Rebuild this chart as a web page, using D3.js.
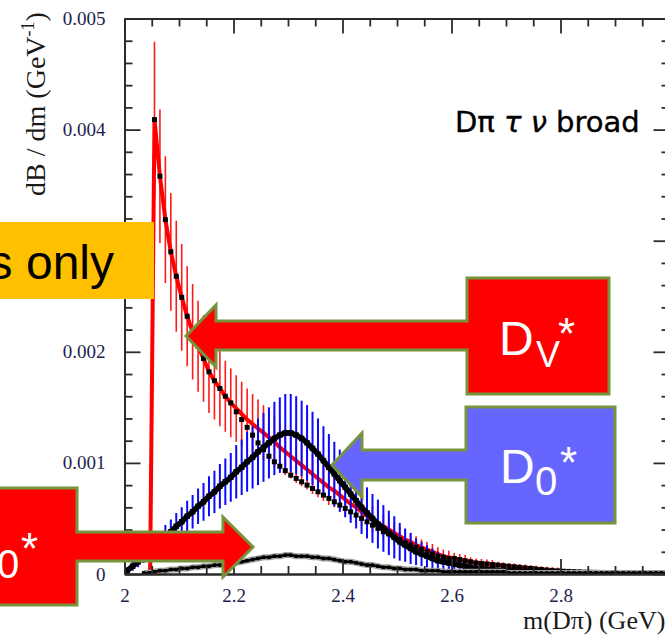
<!DOCTYPE html>
<html>
<head>
<meta charset="utf-8">
<script src="https://cdn.jsdelivr.net/npm/d3@7/dist/d3.min.js"></script>
<style>
    html, body { margin: 0; padding: 0; background: #fff; }
    svg { display: block; }
</style>
</head>
<body>
<div id="chart"></div>
<script>
// bin centres: 2.005, 2.015 ... 2.995 GeV (10 MeV bins)
var binStart = 2.005, binWidth = 0.01
var dvThreshold = 2.047   // red curve rises from zero here

// D_V* broad : red curve + red error bars
var dvCurve = [null, null, null, null, null,
    0.00409, 0.00358, 0.00319, 0.00290, 0.00268, 0.00249, 0.00232, 0.00218, 0.00205, 0.00194,
    0.00182, 0.00174, 0.00167, 0.00160, 0.00154, 0.00149, 0.00144, 0.00139, 0.00135, 0.00131,
    0.00127, 0.00123, 0.00119, 0.00114, 0.00110, 0.00106, 0.00102, 0.00098, 0.00094, 0.00090,
    0.00086, 0.00082, 0.00078, 0.00075, 0.00071, 0.00067, 0.00063, 0.00060, 0.00056, 0.00052,
    0.00049, 0.00046, 0.00043, 0.00040, 0.00037, 0.00034, 0.00031, 0.00029, 0.00026, 0.00024,
    0.00022, 0.00020, 0.00018, 0.00016, 0.00015, 0.00014, 0.00013, 0.00012, 0.00011, 0.00010,
    0.000095, 0.00009, 0.000085, 0.00008, 0.000075, 0.00007, 0.000065, 0.00006, 0.000055, 0.00005,
    0.000045, 0.00004, 0.000036, 0.000032, 0.000028, 0.000025, 0.000023, 0.000021, 0.000019, 0.000017,
    0.000016, 0.000015, 0.000014, 0.000013, 0.000012, 0.000011, 0.00001, 0.00001, 0.000009, 0.000009,
    0.000008, 0.000008, 0.000007, 0.000007, 0.000006]
var dvErr = [null, null, null, null, null,
    0.0007, 0.0006, 0.00057, 0.00053, 0.0005, 0.00048, 0.00045, 0.00043, 0.00041, 0.00039,
    0.00037, 0.00035, 0.00034, 0.00032, 0.00031, 0.0003, 0.00029, 0.00028, 0.00027, 0.00026,
    0.00025, 0.00024, 0.00023, 0.00022, 0.00021, 0.0002, 0.0002, 0.00019, 0.00018, 0.00018,
    0.00017, 0.00016, 0.00016, 0.00015, 0.00015, 0.00014, 0.00014, 0.00013, 0.00013, 0.00012,
    0.00012, 0.00011, 0.00011, 0.0001, 0.0001, 0.00009, 0.00009, 0.00008, 0.00008, 0.00007,
    0.00007, 0.00007, 0.00006, 0.00006, 0.00006, 0.00005, 0.00005, 0.00005, 0.00004, 0.00004,
    0.00004, 0.00004, 0.00004, 0.00003, 0.00003, 0.00003, 0.00003, 0.00003, 0.00003, 0.00003,
    0.00003, 0.00003, 0.00003, 0.00003, 0.00003, 0.00002, 0.00002, 0.00002, 0.00002, 0.00002,
    0.00002, 0.00002, 0.00002, 0.00002, 0.00002, 0.00002, 0.00002, 0.00002, 0.00002, 0.00002,
    0.00002, 0.00002, 0.00002, 0.00002, 0.00002]
// black squares sitting on / below the red curve
var dvPoints = [null, null, null, null, null,
    0.00409, 0.00358, 0.00319, 0.00290, 0.00268, 0.00249, 0.00232, 0.00218, 0.00205, 0.00194,
    0.00182, 0.00174, 0.00167, 0.00160, 0.00154, 0.00146, 0.00139, 0.00132, 0.00125, 0.00118,
    0.00112, 0.00106, 0.00101, 0.00097, 0.00093, 0.00089, 0.00086, 0.00083, 0.00080, 0.00077,
    0.00074, 0.00071, 0.00068, 0.00065, 0.00062, 0.00059, 0.00056, 0.00053, 0.00050, 0.00047,
    0.00044, 0.00041, 0.00038, 0.00036, 0.00033, 0.00031, 0.00028, 0.00026, 0.00024, 0.00022,
    0.00020, 0.00018, 0.00016, 0.00015, 0.00014, 0.00014, 0.00013, 0.00012, 0.00011, 0.00010,
    0.000095, 0.00009, 0.000085, 0.00008, 0.000075, 0.00007, 0.000065, 0.00006, 0.000055, 0.00005,
    0.000045, 0.00004, 0.000036, 0.000032, 0.000028, 0.000025, 0.000023, 0.000021, 0.000019, 0.000017,
    0.000016, 0.000015, 0.000014, 0.000013, 0.000012, 0.000011, 0.00001, 0.00001, 0.000009, 0.000009,
    0.000008, 0.000008, 0.000007, 0.000007, 0.000006]

// D_0* broad : black curve + blue error bars
var d0Curve = [
    0.00003, 0.00007, 0.00011, 0.00016, 0.00020, 0.00025, 0.00029, 0.00034, 0.00038, 0.00043,
    0.00047, 0.00052, 0.00056, 0.00061, 0.00065, 0.00070, 0.00074, 0.00079, 0.00083, 0.00087,
    0.00092, 0.00096, 0.00101, 0.00105, 0.00110, 0.00114, 0.00118, 0.00122, 0.00125, 0.00127,
    0.00127, 0.00125, 0.00122, 0.00118, 0.00113, 0.00108, 0.00102, 0.00096, 0.00090, 0.00084,
    0.00078, 0.00072, 0.00066, 0.00060, 0.00055, 0.00050, 0.00045, 0.00041, 0.00037, 0.00033,
    0.00029, 0.00026, 0.00023, 0.00020, 0.00018, 0.00016, 0.00014, 0.00012, 0.00011, 0.00010,
    0.00009, 0.00008, 0.00007, 0.00006, 0.00005, 0.00005, 0.00004, 0.00004, 0.00003, 0.00003,
    0.00003, 0.00002, 0.00002, 0.00002, 0.00002, 0.00002, 0.00002, 0.00002, 0.00002, 0.00002,
    0.00001, 0.00001, 0.00001, 0.00001, 0.00001, 0.00001, 0.00001, 0.00001, 0.00001, 0.00001,
    0.00001, 0.00001, 0.00001, 0.00001, 0.00001, 0.00001, 0.00001, 0.00001, 0.00001, 0.00001]
var d0Err = [
    0.00003, 0.00004, 0.00005, 0.00006, 0.00007, 0.00008, 0.00009, 0.0001, 0.00011, 0.00012,
    0.00013, 0.00014, 0.00015, 0.00016, 0.00017, 0.00018, 0.00019, 0.0002, 0.00021, 0.00022,
    0.00024, 0.00025, 0.00027, 0.00028, 0.0003, 0.00031, 0.00032, 0.00033, 0.00034, 0.00035,
    0.00035, 0.00035, 0.00034, 0.00034, 0.00033, 0.00032, 0.00031, 0.0003, 0.00029, 0.00028,
    0.00027, 0.00026, 0.00025, 0.00024, 0.00023, 0.00022, 0.00022, 0.00021, 0.0002, 0.00019,
    0.00017, 0.00015, 0.00014, 0.00012, 0.00011, 0.0001, 0.00009, 0.00008, 0.00007, 0.00006,
    0.00005, 0.00005, 0.00004, 0.00004, 0.00003, 0.00003, 0.00003, 0.00002, 0.00002, 0.00002,
    0.00002, 0.00002, 0.00002, 0.00002, 0.00002, 0.00002, 0.00002, 0.00002, 0.00002, 0.00002,
    0.00002, 0.00002, 0.00002, 0.00002, 0.00002, 0.00002, 0.00002, 0.00002, 0.00002, 0.00002,
    0.00002, 0.00002, 0.00002, 0.00002, 0.00002, 0.00002, 0.00002, 0.00002, 0.00002, 0.00002]

// small black component near the axis
var smallCurve = [null, null, null, 0.00001,
    0.00001, 0.00002, 0.00003, 0.00003, 0.00004, 0.00004, 0.00005, 0.00005, 0.00006, 0.00006,
    0.00007, 0.00007, 0.00008, 0.00008, 0.00009, 0.00009, 0.0001, 0.00011, 0.00012, 0.00013,
    0.00014, 0.00015, 0.00015, 0.00016, 0.00016, 0.00017, 0.00017, 0.00016, 0.00016, 0.00016,
    0.00015, 0.00015, 0.00014, 0.00014, 0.00013, 0.00012, 0.00011, 0.00011, 0.0001, 0.00009,
    0.00008, 0.00008, 0.00007, 0.00006, 0.00006, 0.00005, 0.00005, 0.00004, 0.00004, 0.00004,
    0.00003, 0.00003, 0.00003, 0.00003, 0.00002, 0.00002, 0.00002, 0.00002, 0.00002, 0.00002,
    0.00002, 0.00002, 0.00002, 0.00002, 0.00002, 0.00002, 0.00001, 0.00001, 0.00001, 0.00001,
    0.00001, 0.00001, 0.00001, 0.00001, 0.00001, 0.00001, 0.00001, 0.00001, 0.00001, 0.00001,
    0.00001, 0.00001, 0.00001, 0.00001, 0.00001, 0.00001, 0.00001, 0.00001, 0.00001, 0.00001,
    0.00001, 0.00001, 0.00001, 0.00001, 0.00001, 0.00001]

var xMajor = [2, 2.2, 2.4, 2.6, 2.8, 3]
var xLabels = ['2', '2.2', '2.4', '2.6', '2.8', '']
var yMajor = [0, 0.001, 0.002, 0.003, 0.004, 0.005]
// 0.003 sits under the orange banner, so it is not shown
var yLabels = ['0', '0.001', '0.002', '', '0.004', '0.005']

;(function () {
    var W = 665, H = 637
    var left = 124.5, right = 669.5, top = 18.5, bottom = 574

    var svg = d3.select('#chart').append('svg').attr('width', W).attr('height', H)
    svg.append('rect').attr('width', W).attr('height', H).attr('fill', '#fff')

    var x = d3.scaleLinear().domain([2, 3]).range([left, right])
    var y = d3.scaleLinear().domain([0, 0.005]).range([bottom, top])

    var mass = dvCurve.map(function (d, i) { return binStart + i * binWidth })
    var xMinor = d3.range(2, 3.001, 0.05).filter(function (v) { return Math.abs(v * 5 - Math.round(v * 5)) > 1e-6 })
    var yMinor = d3.range(0, 0.00501, 0.0002).filter(function (v) { return Math.abs(v * 1000 - Math.round(v * 1000)) > 1e-6 })

    svg.append('clipPath').attr('id', 'plot').append('rect')
        .attr('x', left).attr('y', top).attr('width', right - left).attr('height', bottom - top)
    var plot = svg.append('g').attr('clip-path', 'url(#plot)')

    function bars(vals, errs, colour, width) {
        var pts = []
        vals.forEach(function (v, i) { if (v != null) pts.push([mass[i], v, errs[i]]) })
        plot.append('g').selectAll('line').data(pts).enter().append('line')
            .attr('x1', function (d) { return x(d[0]) }).attr('x2', function (d) { return x(d[0]) })
            .attr('y1', function (d) { return y(Math.max(0, d[1] - d[2])) })
            .attr('y2', function (d) { return y(d[1] + d[2]) })
            .attr('stroke', colour).attr('stroke-width', width)
    }
    function curve(data, colour, width) {
        var line = d3.line().defined(function (d) { return d[1] != null })
            .x(function (d) { return x(d[0]) }).y(function (d) { return y(d[1]) })
        plot.append('path').datum(data).attr('d', line)
            .attr('fill', 'none').attr('stroke', colour).attr('stroke-width', width)
            .attr('stroke-linejoin', 'round')
    }
    function squares(vals, size) {
        var pts = []
        vals.forEach(function (v, i) { if (v != null) pts.push([mass[i], v]) })
        plot.append('g').selectAll('rect').data(pts).enter().append('rect')
            .attr('x', function (d) { return x(d[0]) - size / 2 })
            .attr('y', function (d) { return y(d[1]) - size / 2 })
            .attr('width', size).attr('height', size).attr('fill', '#000')
    }
    function zip(vals) { return vals.map(function (v, i) { return [mass[i], v] }) }

    // red: D_V*
    bars(dvCurve, dvErr, '#ff1a1a', 1.6)
    curve([[dvThreshold, 0]].concat(zip(dvCurve).filter(function (d) { return d[1] != null })), '#ff0000', 4)
    // blue: D_0*
    bars(d0Curve, d0Err, '#0a0aff', 2)
    curve(zip(d0Curve), '#000', 5.5)
    squares(d0Curve, 5.5)
    // black squares on the red curve
    squares(dvPoints, 5)
    // small component
    curve(zip(smallCurve), '#a0a0a0', 6)
    curve(zip(smallCurve), '#000', 2.5)
    squares(smallCurve, 3.5)

    // frame: ticks on all four sides, pointing inwards
    function style(g) {
        g.selectAll('path, line').attr('stroke', '#2b2b2b').attr('stroke-width', 1.8)
        g.selectAll('text').attr('font-family', '"Liberation Serif", serif')
            .attr('font-size', 19).attr('fill', '#1e1e4e')
    }
    var fmtX = function (d) { var i = xMajor.indexOf(d); return i < 0 ? '' : xLabels[i] }
    var fmtY = function (d) { var i = yMajor.indexOf(d); return i < 0 ? '' : yLabels[i] }

    svg.append('g').attr('transform', 'translate(0,' + bottom + ')')
        .call(d3.axisBottom(x).tickValues(xMajor).tickSize(-15).tickSizeOuter(0).tickPadding(15).tickFormat(fmtX)).call(style)
    svg.append('g').attr('transform', 'translate(0,' + bottom + ')')
        .call(d3.axisBottom(x).tickValues(xMinor).tickSize(-8).tickSizeOuter(0).tickFormat('')).call(style)
    svg.append('g').attr('transform', 'translate(0,' + top + ')')
        .call(d3.axisTop(x).tickValues(xMajor).tickSize(-15).tickSizeOuter(0).tickFormat('')).call(style)
    svg.append('g').attr('transform', 'translate(0,' + top + ')')
        .call(d3.axisTop(x).tickValues(xMinor).tickSize(-8).tickSizeOuter(0).tickFormat('')).call(style)
    svg.append('g').attr('transform', 'translate(' + left + ',0)')
        .call(d3.axisLeft(y).tickValues(yMajor).tickSize(-16).tickSizeOuter(0).tickPadding(19).tickFormat(fmtY)).call(style)
    svg.append('g').attr('transform', 'translate(' + left + ',0)')
        .call(d3.axisLeft(y).tickValues(yMinor).tickSize(-8).tickSizeOuter(0).tickFormat('')).call(style)
    svg.append('g').attr('transform', 'translate(' + right + ',0)')
        .call(d3.axisRight(y).tickValues(yMajor).tickSize(-16).tickSizeOuter(0).tickFormat('')).call(style)
    svg.append('g').attr('transform', 'translate(' + right + ',0)')
        .call(d3.axisRight(y).tickValues(yMinor).tickSize(-8).tickSizeOuter(0).tickFormat('')).call(style)

    // axis titles
    var yTitle = svg.append('text').attr('transform', 'translate(45,104) rotate(-90)')
        .attr('text-anchor', 'middle').attr('font-family', '"Liberation Serif", serif')
        .attr('font-size', 28).attr('fill', '#1a1a1a')
    yTitle.append('tspan').text('dB / dm (GeV')
    yTitle.append('tspan').attr('font-size', 18).attr('dy', -11).text('-1')
    yTitle.append('tspan').attr('dy', 11).text(')')
    svg.append('text').attr('x', 523).attr('y', 629)
        .attr('font-family', '"Liberation Serif", serif').attr('font-size', 26).attr('fill', '#1a1a1a')
        .text('m(Dπ) (GeV)')

    var label = svg.append('text').attr('x', 455).attr('y', 132)
        .attr('font-family', '"DejaVu Sans", sans-serif').attr('font-size', 29).attr('fill', '#000')
        .attr('stroke', '#000').attr('stroke-width', 0.4)
    label.append('tspan').text('Dπ ')
    label.append('tspan').attr('font-style', 'italic').text('τ ν')
    label.append('tspan').text(' broad')

    // slide overlays: callout arrows and banner
    var green = '#77933c'
    function callout(pts, fill) {
        svg.append('path').attr('d', d3.line()(pts) + 'Z')
            .attr('fill', fill).attr('stroke', green).attr('stroke-width', 3).attr('stroke-linejoin', 'miter')
    }
    function name(xd, yd, sub, xs, ys, xa, ya, subSize) {
        var f = '"Liberation Sans", Arial, sans-serif'
        svg.append('text').attr('x', xd).attr('y', yd).attr('font-family', f).attr('font-size', 48).attr('fill', '#fff').text('D')
        svg.append('text').attr('x', xs).attr('y', ys).attr('font-family', f).attr('font-size', subSize).attr('fill', '#fff').text(sub)
        svg.append('text').attr('x', xa).attr('y', ya).attr('font-family', f).attr('font-size', 44).attr('fill', '#fff').text('*')
    }

    callout([[467, 278], [609, 278], [609, 394], [467, 394], [467, 350], [216, 350], [216, 367],
        [186, 336], [216, 305], [216, 321], [467, 321]], '#ff0000')
    name(499, 355, 'V', 536, 367, 558, 349, 36)

    callout([[466, 407], [615, 407], [615, 523], [466, 523], [466, 480], [362, 480], [362, 497],
        [332, 465], [362, 433], [362, 450], [466, 450]], '#6666ff')
    name(500, 483, '0', 535, 495, 560, 478, 40)

    callout([[-72, 488], [77, 488], [77, 532], [223, 532], [223, 517], [253, 547], [223, 577],
        [223, 561], [77, 561], [77, 605], [-72, 605]], '#ff0000')
    name(-38, 566, '0', -3, 578, 21, 564, 40)

    svg.append('rect').attr('x', -10).attr('y', 222).attr('width', 164).attr('height', 77).attr('fill', '#ffc000')
    svg.append('text').attr('x', 114).attr('y', 279).attr('text-anchor', 'end')
        .attr('font-family', '"Liberation Sans", Arial, sans-serif').attr('font-size', 48).attr('fill', '#000')
        .text('s only')
})()
</script>
</body>
</html>
